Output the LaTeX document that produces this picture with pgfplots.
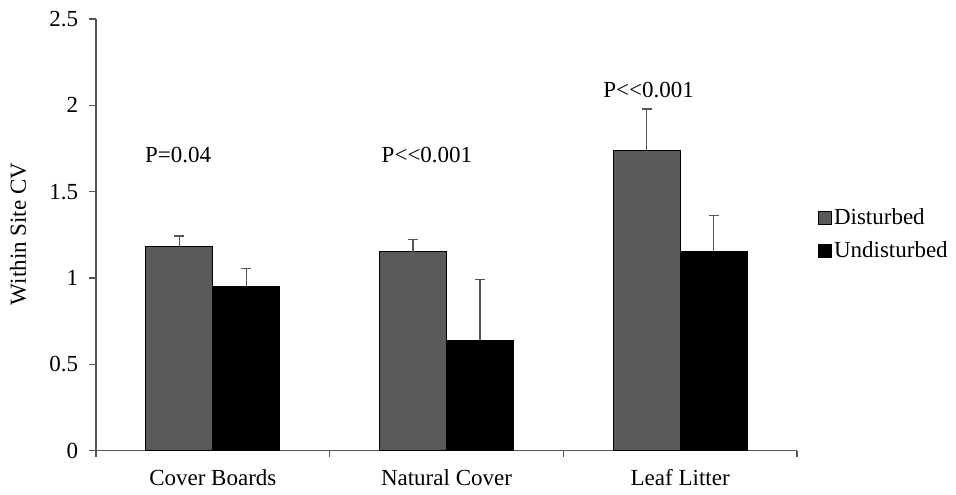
\documentclass[border=0pt]{standalone}
\usepackage{pgfplots}
\pgfplotsset{compat=1.18}
\usepackage{fontspec}
\setmainfont{Liberation Serif}
\definecolor{dist}{HTML}{595959}
\definecolor{axgray}{HTML}{555555}
\begin{document}
\fontsize{23}{27}\selectfont
\begin{tikzpicture}
\useasboundingbox (-96pt,-44.3pt) rectangle (860pt,450.7pt);
\begin{axis}[
  at={(0,0)}, anchor=south west,
  scale only axis, width=701pt, height=431.7pt,
  xmin=-0.5, xmax=2.5, ymin=0, ymax=2.5,
  axis x line=bottom, axis y line=left,
  axis line style={axgray, line width=1.2pt, -},
  xtick={0,1,2}, xticklabels={Cover Boards, Natural Cover, Leaf Litter},
  minor xtick={-0.5,0.5,1.5,2.5},
  major x tick style={draw=none},
  minor x tick style={axgray, line width=1.2pt},
  ytick={0,0.5,1,1.5,2,2.5},
  yticklabels={0,0.5,1,1.5,2,2.5},
  y tick style={axgray, line width=1.2pt},
  tick align=outside,
  major tick length=7pt, minor tick length=6pt,
  /pgf/number format/assume math mode=true,
  tick label style={font=\fontsize{23}{27}\selectfont},
  xticklabel style={yshift=-4pt},
  yticklabel style={xshift=-3pt},
  ylabel={Within Site CV},
  ylabel style={at={(axis description cs:-0.111,0.502)}, anchor=center, rotate=0, font=\fontsize{23}{27}\selectfont},
  ybar, bar width=67pt,
  legend style={at={(axis description cs:1.03,0.567)}, anchor=north west, draw=none, fill=none,
    font=\fontsize{23}{27}\selectfont, row sep=10pt, inner sep=0pt,
    /tikz/every even column/.append style={column sep=2pt}},
  legend cell align=left,
  clip=false,
]
\addplot[forget plot, bar shift=-33.5pt, fill=dist, draw=black, line width=0.9pt,
  error bars/.cd, y dir=plus, y explicit,
  error bar style={axgray, line width=1.2pt},
  error mark options={axgray, line width=1.2pt, mark size=5pt, rotate=90}]
  coordinates {(0,1.180) +- (0,0.063) (1,1.152) +- (0,0.072) (2,1.737) +- (0,0.242)};
\addplot[forget plot, bar shift=33.5pt, fill=black, draw=black, line width=0.9pt,
  error bars/.cd, y dir=plus, y explicit,
  error bar style={axgray, line width=1.2pt},
  error mark options={axgray, line width=1.2pt, mark size=5pt, rotate=90}]
  coordinates {(0,0.950) +- (0,0.106) (1,0.641) +- (0,0.351) (2,1.152) +- (0,0.209)};
\addlegendimage{legend image code/.code={\draw[fill=dist, draw=black, line width=0.8pt] (0pt,-6.5pt) rectangle (13pt,6.5pt);}}
\addlegendentry{Disturbed}
\addlegendimage{legend image code/.code={\draw[fill=black, draw=black, line width=0.8pt] (0pt,-6.5pt) rectangle (13pt,6.5pt);}}
\addlegendentry{Undisturbed}
\node[font=\fontsize{23}{27}\selectfont] at (axis cs:-0.149,1.712) {P=0.04};
\node[font=\fontsize{23}{27}\selectfont] at (axis cs:0.9165,1.712) {P<{}<0.001};
\node[font=\fontsize{23}{27}\selectfont] at (axis cs:1.865,2.089) {P<{}<0.001};
\end{axis}
\end{tikzpicture}
\end{document}
